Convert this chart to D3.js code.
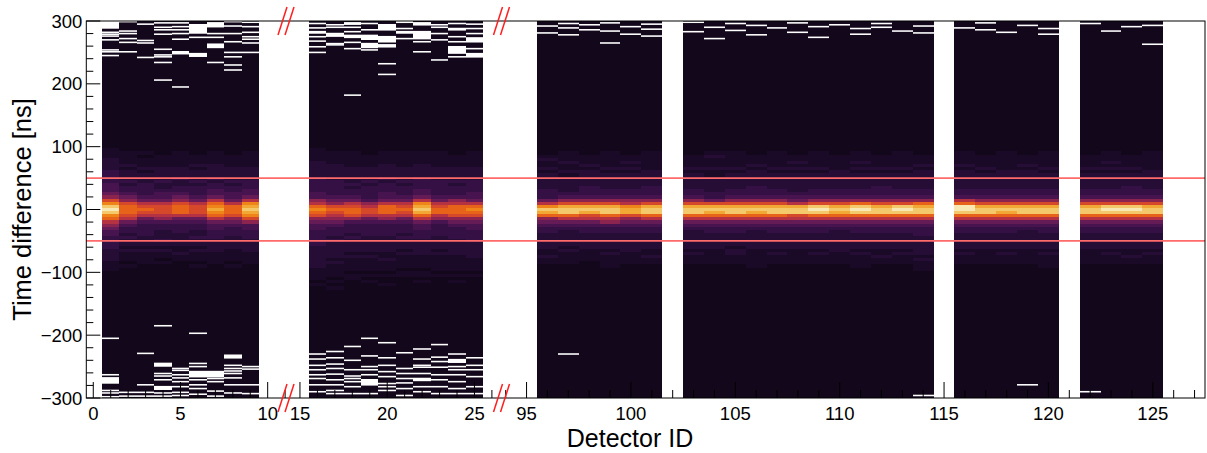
<!DOCTYPE html>
<html>
<head>
<meta charset="utf-8">
<script src="https://cdn.jsdelivr.net/npm/d3@7"></script>
<style>
  body { margin: 0; background: #fff; }
  svg { display: block; }
  text { font-family: "Liberation Sans", Arial, Helvetica, sans-serif; fill: #000; }
</style>
</head>
<body>
<svg id="chart" width="1207" height="453"></svg>
<script>
// Detectors that recorded hits, in axis order
const detectorIds = [
  1, 2, 3, 4, 5, 6, 7, 8, 9,
  16, 17, 18, 19, 20, 21, 22, 23, 24, 25,
  96, 97, 98, 99, 100, 101,
  103, 104, 105, 106, 107, 108, 109, 110, 111, 112, 113, 114,
  116, 117, 118, 119, 120,
  122, 123, 124, 125
];

// Intensity profile around the coincidence peak, 5 ns bins.
// "above|centre|below": above runs from the highest bin down to +5 ns,
// below from -5 ns downwards. Levels 0..d (hex) index the colour palette.
const peakProfiles = [
  "011122223333444568ac|d|ca976544333322221110",
  "00111121222323345689|9|98754332322121110100",
  "00101112122233334578|9|87543333222121111000",
  "00011112222322344578|8|87643322232121101000",
  "00111112223223345689|9|97543332222112110000",
  "00011121222323334578|8|87543322322121110100",
  "0011112222323344579a|b|a9754433322221111000",
  "00011112222323344579|9|98654333222211110100",
  "001111122223334457ab|c|ba864433322221111000",

  "01111222223333344679|a|986544333332222222111101000",
  "00111122222333334568|9|876543332322222121111010100",
  "00111112222232334578|9|986433323222212111101100",
  "00011112222323333467|8|875433332222212111101010",
  "00111122223233344579|9|976433332222211211101001",
  "00111112222323334578|9|875433323222121111011000",
  "001111222233334457ab|c|b97544333222221111011010",
  "00111112222333334578|9|976433332222121111101000",
  "00011112222323334679|9|986543333222221111101010",
  "00111112222333344579|a|986544333322222111101000",

  "0001211212222233357a|c|b9654332222211211000",
  "0011121121222223468b|c|c9754322222121111000",
  "0001112122222333468b|c|b8754332222211110000",
  "0011111212222233468b|c|c9764332222212111100",
  "0001121212222233467a|b|b8654332222221111000",
  "0011111122222333468b|c|c9754332222211211000",

  "0001111212222233468b|c|c9754322222212111000",
  "0012111211222223358b|c|b9754332222211111000",
  "0011111212222233468b|c|c9754332222122111000",
  "0001112122222333468b|c|b9754322222211111100",
  "0011111212222233468b|c|c9754332222212111000",
  "0001121212222223457b|c|c8754332222211111000",
  "0011111212222233468c|d|c9754332222212111000",
  "0001111122222233468b|c|b9754322222221111000",
  "0011121212222233469c|d|c9754332222212111100",
  "0001111212222333468b|c|c9754332222211211000",
  "0011111212222233468c|d|c9754332222212111000",
  "0001112122222233469b|c|c9754333222222121110",

  "0011112122222233479d|d|c9754332222212111000",
  "0001111212222233468b|c|c9754332222211111000",
  "0011111122222233468b|c|b9754332222212111000",
  "0001112122222233468b|c|c9754322222211111000",
  "0011111212222233468b|c|c9754332222212111100",

  "0001111212222233468b|c|c9754332222211111000",
  "0011121212222233468c|d|c9754332222212111000",
  "0001111212222333468c|d|c9754332222211211000",
  "0011111122222233468b|c|c9754332222212111000"
];

// Empty (zero-count) time bins near the upper window edge, ns; [a, b] is a run of empty bins
const emptyTop = [
  [[300, 289], 282, 279, 276, 270, 254, 251, 245],
  [299, 284, 280, 272, 266, 251],
  [295, 269, 265, 242],
  [297, 290, 286, 279, 255, 246, 243, 234, 206],
  [297, 291, 286, 280, 271, [251, 248], 195],
  [[294, 281], 274, [248, 244]],
  [[297, 291], 280, 274, [263, 258], 234],
  [299, 292, 280, 267, 250, 243, 230, 222],
  [298, 291, 282, 275, 271, 265, 250],

  [296, 289, [283, 281], 275, 268, 259, 250],
  [294, 290, 280, [278, 276], 264, 262],
  [[297, 295], 290, 283, [277, 274], 266, 256, 182],
  [296, 286, [277, 271], [264, 258], 254],
  [[294, 286], [275, 267], [262, 259], 232, 215],
  [[300, 298], 288, [283, 281], 272],
  [[297, 294], [283, 272], 267, 251],
  [294, 290, 280, 270, 238],
  [296, [288, 286], 275, 267, [259, 249], 243],
  [295, 288, 280, [273, 267], 256, [248, 243]],

  [292, 281],
  [296, 289, 278],
  [294, 286],
  [297, 284, 265],
  [291, 279],
  [295, 287, 276],

  [298, 283],
  [290, 272],
  [296, 285],
  [293, 278],
  [289],
  [297, 282],
  [291, 274],
  [294],
  [288, 279],
  [296, 290],
  [284],
  [292, 281],

  [289],
  [297, 286],
  [282],
  [293],
  [288, 279],

  [296],
  [284],
  [291],
  [293, 263]
];

// Empty time bins near the lower window edge, ns
const emptyBottom = [
  [-205, -263, [-268, -276], -288, -292, -298],
  [-291, -297],
  [-229, -279, -291, -297],
  [-185, [-245, -249], -261, -265, -271, [-282, -286], -292, -297],
  [-253, -256, -263, -268, -274, -282, -291, -296],
  [-197, -245, -250, [-258, -266], -271, -279, -285, -294],
  [[-258, -266], -269, -274, -289, -297],
  [[-232, -236], -248, -253, -257, -261, -268, -279, -292],
  [-250, -254, -279, -293],

  [-230, -238, -248, -255, -263, -269, -279, -290],
  [-226, -236, -246, -253, -262, -271, -279, -288, -293],
  [-218, -240, -255, -265, -269, -274, -282, -293],
  [-205, -233, -250, -255, -263, [-271, -279], -293],
  [-212, -236, -248, -258, -266, -277, -282, -288],
  [-228, -253, -261, -269, -276, -285, -296],
  [-222, -238, -248, -251, -261, [-269, -272], -282, -290],
  [-215, -235, -242, -251, -263, -271, -282, -293],
  [-230, [-239, -243], -250, -255, -263, -274, -285, -293],
  [-236, -248, -255, -266, -282, -293],

  [], [-230], [], [], [], [],
  [], [], [], [], [], [], [], [], [], [], [], [-296],
  [], [], [], [-279], [],
  [-290], [], [], []
];

// Broken detector axis: the three displayed ranges of detector ID
const axisSegments = [[-0.4, 11.05], [14.2, 26.55], [93.8, 127.5]];
const xTickLabels = [0, 5, 10, 15, 20, 25, 95, 100, 105, 110, 115, 120, 125];
const yTickValues = [-300, -200, -100, 0, 100, 200, 300];
const timeRange = [-300, 300];
const windowLimits = [-50, 50];

// Colour levels 0..13
const levelColors = [
  "#13071b", "#1a0927", "#250d36", "#341045", "#48144f", "#651b55", "#8c2450",
  "#b43242", "#d6482a", "#e8631a", "#ef8519", "#f2a834", "#f4c96c", "#f8e9b4"
];

const coreBin = 5;     // ns
const emptyBin = 2.5;  // ns

// ---- layout ----
const frame = { left: 86.3, right: 1205, top: 21, bottom: 398 };
const segEdges = [frame.left, 286, 501.5, frame.right];

const svg = d3.select("#chart");

const segScales = axisSegments.map((d, i) =>
  d3.scaleLinear().domain(d).range([segEdges[i], segEdges[i + 1]]));
const segOf = v => axisSegments.findIndex(d => v >= d[0] && v <= d[1]);
const xPos = (v, s) => segScales[s](v);

const y = d3.scaleLinear().domain(timeRange).range([frame.bottom, frame.top]);
const color = d3.scaleLinear().domain(d3.range(levelColors.length)).range(levelColors);

// ---- per-detector cells (column edges snapped to whole pixels) ----
const columns = detectorIds.map((id, i) => {
  const s = segOf(id);
  return { id, i, x0: Math.round(xPos(id - 0.5, s)), x1: Math.round(xPos(id + 0.5, s)) };
});

const gCols = svg.append("g").attr("shape-rendering", "crispEdges");

gCols.selectAll("rect.bg")
  .data(columns)
  .join("rect")
  .attr("class", "bg")
  .attr("x", d => d.x0)
  .attr("width", d => d.x1 - d.x0)
  .attr("y", y(timeRange[1]))
  .attr("height", y(timeRange[0]) - y(timeRange[1]))
  .attr("fill", color(0));

const coreCells = [];
columns.forEach(c => {
  const [above, centre, below] = peakProfiles[c.i].split("|");
  [...above].forEach((ch, k) => coreCells.push({ c, t: coreBin * (above.length - k), lvl: parseInt(ch, 16) }));
  coreCells.push({ c, t: 0, lvl: parseInt(centre, 16) });
  [...below].forEach((ch, k) => coreCells.push({ c, t: -coreBin * (k + 1), lvl: parseInt(ch, 16) }));
});

gCols.append("g")
  .selectAll("rect")
  .data(coreCells.filter(d => d.lvl > 0))
  .join("rect")
  .attr("x", d => d.c.x0)
  .attr("width", d => d.c.x1 - d.c.x0)
  .attr("y", d => y(d.t + coreBin / 2))
  .attr("height", d => y(d.t - coreBin / 2) - y(d.t + coreBin / 2))
  .attr("fill", d => color(d.lvl));

const emptyCells = [];
columns.forEach(c => {
  [...emptyTop[c.i], ...emptyBottom[c.i]].forEach(e => {
    const hi = Array.isArray(e) ? Math.max(e[0], e[1]) : e;
    const lo = Array.isArray(e) ? Math.min(e[0], e[1]) : e;
    emptyCells.push({
      c,
      hi: Math.min(timeRange[1], hi + emptyBin / 2),
      lo: Math.max(timeRange[0], lo - emptyBin / 2)
    });
  });
});

// empty bins keep anti-aliased edges, so thin ones render as grey hairlines
svg.append("g")
  .selectAll("rect")
  .data(emptyCells)
  .join("rect")
  .attr("x", d => d.c.x0)
  .attr("width", d => d.c.x1 - d.c.x0)
  .attr("y", d => y(d.hi))
  .attr("height", d => y(d.lo) - y(d.hi))
  .attr("fill", "#fff");

// ---- coincidence window ----
svg.append("g")
  .selectAll("line")
  .data(windowLimits)
  .join("line")
  .attr("x1", frame.left).attr("x2", frame.right)
  .attr("y1", d => y(d)).attr("y2", d => y(d))
  .attr("stroke", "#ff6a6a")
  .attr("stroke-width", 1.6);

// ---- frame and axes ----
const gAxes = svg.append("g").attr("stroke", "#000").attr("stroke-width", 1);

gAxes.append("rect")
  .attr("x", frame.left).attr("y", frame.top)
  .attr("width", frame.right - frame.left)
  .attr("height", frame.bottom - frame.top)
  .attr("fill", "none");

// y ticks, inward
const yMinor = d3.range(timeRange[0], timeRange[1] + 1, 20);
gAxes.append("g")
  .selectAll("line")
  .data(yMinor)
  .join("line")
  .attr("x1", frame.left)
  .attr("x2", d => frame.left + (yTickValues.includes(d) ? 14 : 7))
  .attr("y1", d => y(d)).attr("y2", d => y(d));

const fmt = d3.format("d");
svg.append("g")
  .selectAll("text")
  .data(yTickValues)
  .join("text")
  .attr("x", frame.left - 4)
  .attr("y", d => y(d))
  .attr("dy", "0.36em")
  .attr("text-anchor", "end")
  .attr("font-size", 18.5)
  .text(d => fmt(d));

// x ticks, inward, one per detector ID in each displayed range
const xTicks = [];
axisSegments.forEach((d, s) => {
  d3.range(Math.ceil(d[0]), Math.floor(d[1]) + 1).forEach(v => xTicks.push({ v, s }));
});
gAxes.append("g")
  .selectAll("line")
  .data(xTicks)
  .join("line")
  .attr("x1", d => xPos(d.v, d.s)).attr("x2", d => xPos(d.v, d.s))
  .attr("y1", frame.bottom)
  .attr("y2", d => frame.bottom - (xTickLabels.includes(d.v) ? 16 : 8));

svg.append("g")
  .selectAll("text")
  .data(xTickLabels)
  .join("text")
  .attr("x", d => xPos(d, segOf(d)))
  .attr("y", 420)
  .attr("text-anchor", "middle")
  .attr("font-size", 18.5)
  .text(d => fmt(d));

// axis break marks
const breaks = segEdges.slice(1, -1);
const marks = [];
breaks.forEach(bx => {
  [frame.top, frame.bottom].forEach(by => {
    [-3.5, 3.5].forEach(off => marks.push({ bx: bx + off, by }));
  });
});
svg.append("g")
  .selectAll("line")
  .data(marks)
  .join("line")
  .attr("x1", d => d.bx - 4.5).attr("y1", d => d.by + 14)
  .attr("x2", d => d.bx + 4.5).attr("y2", d => d.by - 14)
  .attr("stroke", "#ff1f1f")
  .attr("stroke-width", 1.5);

// titles
svg.append("text")
  .attr("x", 630)
  .attr("y", 447)
  .attr("text-anchor", "middle")
  .attr("font-size", 25)
  .text("Detector ID");

svg.append("text")
  .attr("transform", `translate(31, ${y(0)}) rotate(-90)`)
  .attr("text-anchor", "middle")
  .attr("font-size", 25.5)
  .text("Time difference [ns]");
</script>
</body>
</html>
